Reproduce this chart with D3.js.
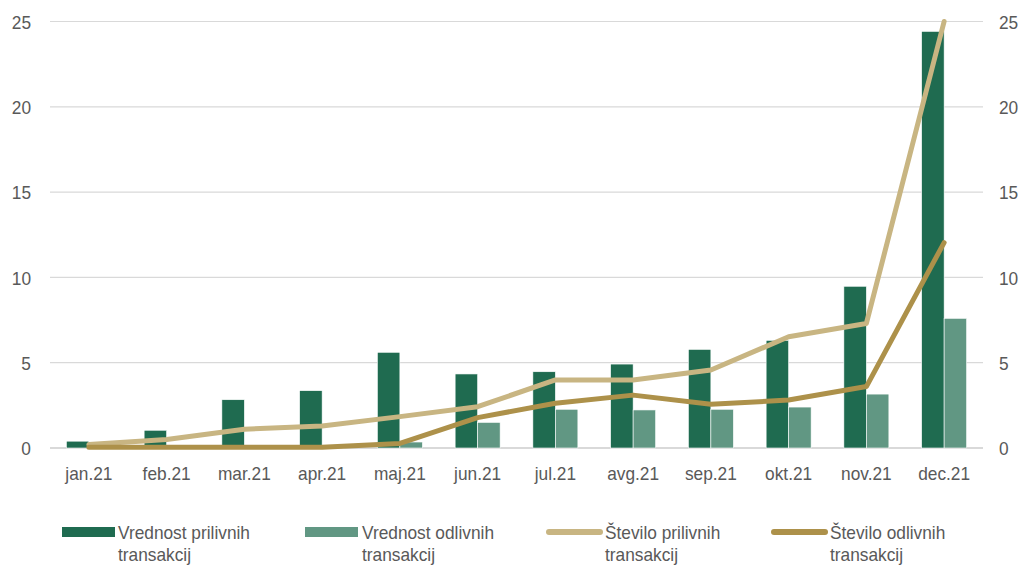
<!DOCTYPE html>
<html>
<head>
<meta charset="utf-8">
<script src="https://cdn.jsdelivr.net/npm/d3@7"></script>
<style>
  html, body { margin: 0; padding: 0; background: #fff; }
  svg { display: block; }
  text { font-family: "Liberation Sans", Arial, sans-serif; fill: #595959; }
</style>
</head>
<body>
<svg id="chart" width="1026" height="566"></svg>
<script>
const categories = ["jan.21","feb.21","mar.21","apr.21","maj.21","jun.21","jul.21","avg.21","sep.21","okt.21","nov.21","dec.21"];
const vrednostPrilivnih = [0.40, 1.04, 2.83, 3.36, 5.61, 4.34, 4.47, 4.92, 5.78, 6.31, 9.48, 24.42];
const vrednostOdlivnih = [0.02, 0.01, 0.01, 0.01, 0.35, 1.50, 2.27, 2.23, 2.27, 2.40, 3.16, 7.60];
const steviloPrilivnih = [0.20, 0.50, 1.10, 1.29, 1.84, 2.42, 3.99, 3.99, 4.57, 6.52, 7.30, 25.0];
const steviloOdlivnih = [0.05, 0.05, 0.05, 0.05, 0.27, 1.78, 2.62, 3.10, 2.56, 2.81, 3.60, 12.04];
const yTicks = [0, 5, 10, 15, 20, 25];
const legendLabels = [["Vrednost prilivnih","transakcij"],["Vrednost odlivnih","transakcij"],["Število prilivnih","transakcij"],["Število odlivnih","transakcij"]];

const colors = { darkBar: "#1f6b50", lightBar: "#619783", tan: "#c8b582", gold: "#ad914a" };

const svg = d3.select("#chart");
const plotLeft = 50, plotRight = 983, plotTop = 21.5, plotBottom = 448;

const x = d3.scaleBand().domain(categories).range([plotLeft, plotRight]);
const y = d3.scaleLinear().domain([0, 25]).range([plotBottom, plotTop]);
const yR = d3.scaleLinear().domain([0, 25]).range([plotBottom, plotTop]);
const barW = 22.5;

// gridlines
svg.append("g").selectAll("line").data(yTicks).join("line")
  .attr("x1", plotLeft).attr("x2", plotRight)
  .attr("y1", d => y(d)).attr("y2", d => y(d))
  .attr("stroke", "#d9d9d9").attr("stroke-width", d => d === 0 ? 2 : 1.2);

// left axis
const yAxisL = d3.axisLeft(y).tickValues(yTicks).tickSize(0).tickPadding(0);
const gL = svg.append("g").attr("transform", `translate(31,0)`).call(yAxisL);
gL.select(".domain").remove();
gL.selectAll("text").attr("font-size", 19).attr("dy", "0.35em").attr("fill", "#595959").attr("font-family", "Liberation Sans, Arial, sans-serif");

// right axis
const yAxisR = d3.axisRight(yR).tickValues(yTicks).tickSize(0).tickPadding(0);
const gR = svg.append("g").attr("transform", `translate(999,0)`).call(yAxisR);
gR.select(".domain").remove();
gR.selectAll("text").attr("font-size", 19).attr("dy", "0.35em").attr("fill", "#595959").attr("font-family", "Liberation Sans, Arial, sans-serif");

// x axis
const xAxis = d3.axisBottom(x).tickSize(0).tickPadding(0);
const gX = svg.append("g").attr("transform", `translate(0,466)`).call(xAxis);
gX.select(".domain").remove();
gX.selectAll("text").attr("font-size", 19).attr("dy", "0.71em").attr("fill", "#595959").attr("font-family", "Liberation Sans, Arial, sans-serif");

const cx = d => x(d) + x.bandwidth() / 2;

// bars
svg.append("g").selectAll("rect").data(categories).join("rect")
  .attr("x", d => cx(d) - barW)
  .attr("width", barW)
  .attr("y", (d, i) => y(vrednostPrilivnih[i]))
  .attr("height", (d, i) => y(0) - y(vrednostPrilivnih[i]))
  .attr("fill", colors.darkBar).attr("stroke", "#ffffff").attr("stroke-width", 0.6);

svg.append("g").selectAll("rect").data(categories).join("rect")
  .attr("x", d => cx(d))
  .attr("width", barW)
  .attr("y", (d, i) => y(vrednostOdlivnih[i]))
  .attr("height", (d, i) => y(0) - y(vrednostOdlivnih[i]))
  .attr("fill", colors.lightBar).attr("stroke", "#ffffff").attr("stroke-width", 0.6);

// lines
const line = d3.line().x(d => cx(d.c)).y(d => yR(d.v));
svg.append("path")
  .datum(categories.map((c, i) => ({ c, v: steviloPrilivnih[i] })))
  .attr("d", line).attr("fill", "none").attr("stroke", colors.tan)
  .attr("stroke-width", 5).attr("stroke-linejoin", "round").attr("stroke-linecap", "round");
svg.append("path")
  .datum(categories.map((c, i) => ({ c, v: steviloOdlivnih[i] })))
  .attr("d", line).attr("fill", "none").attr("stroke", colors.gold)
  .attr("stroke-width", 5).attr("stroke-linejoin", "round").attr("stroke-linecap", "round");

// legend
const legendX = [62, 305, 546, 771];
const textX = [118, 362, 605, 830];
const lg = svg.append("g");
legendLabels.forEach((lab, i) => {
  if (i < 2) {
    lg.append("rect").attr("x", legendX[i]).attr("y", 527).attr("width", 53).attr("height", 10)
      .attr("fill", i === 0 ? colors.darkBar : colors.lightBar);
  } else {
    lg.append("line").attr("x1", legendX[i] + 3).attr("x2", legendX[i] + 54)
      .attr("y1", 532).attr("y2", 532)
      .attr("stroke", i === 2 ? colors.tan : colors.gold).attr("stroke-width", 6).attr("stroke-linecap", "round");
  }
  lab.forEach((t, j) => {
    lg.append("text").attr("x", textX[i]).attr("y", 539 + j * 22).attr("font-size", 19).text(t);
  });
});

// horizontal condensing to match the narrow reference font
svg.selectAll("text").each(function () {
  const len = this.getComputedTextLength();
  if (len > 0) {
    d3.select(this).attr("textLength", len * 0.91).attr("lengthAdjust", "spacingAndGlyphs");
  }
});
</script>
</body>
</html>
